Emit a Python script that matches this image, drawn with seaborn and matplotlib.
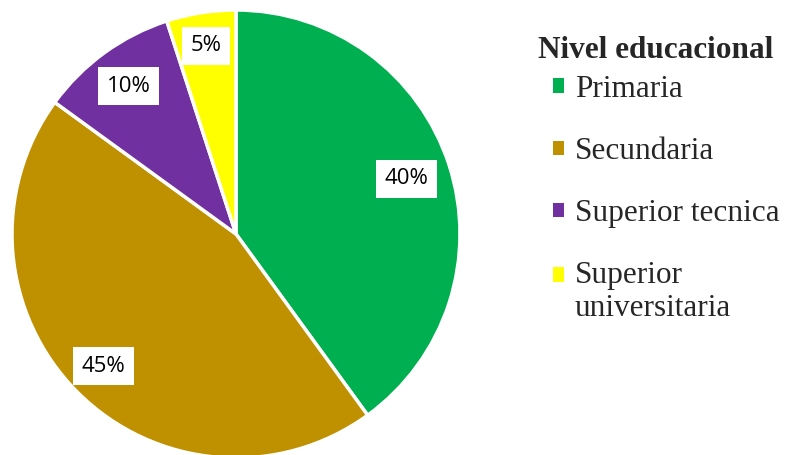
import matplotlib
matplotlib.use("Agg")
import numpy as np
import matplotlib.pyplot as plt
import seaborn as sns
from matplotlib.patches import Patch

niveles = ["Primaria", "Secundaria", "Superior tecnica", "Superior\nuniversitaria"]
porcentajes = [40, 45, 10, 5]
colores = ["#00B050", "#BF9000", "#7030A0", "#FFFF00"]
titulo = "Nivel educacional"

# distance of each % label from the centre (Excel "best fit" placement)
dist_etiqueta = [0.80, 0.835, 0.815, 0.85]

sns.set_style("white")
palette = sns.color_palette(colores)

fig = plt.figure(figsize=(7.87, 4.55), dpi=100)
ax = fig.add_axes([12 / 787, (455 - 234 - 224) / 455, 448 / 787, 448 / 455])

wedges, texts, autotexts = ax.pie(
    porcentajes, colors=palette, startangle=90, counterclock=False,
    autopct="%d%%", pctdistance=0.8,
    wedgeprops=dict(edgecolor="white", linewidth=2.5),
    textprops=dict(fontsize=16, family="Open Sans", color="black"),
)
for w, t, d in zip(wedges, autotexts, dist_etiqueta):
    ang = np.deg2rad((w.theta1 + w.theta2) / 2)
    t.set_position((d * np.cos(ang), d * np.sin(ang)))
    t.set_bbox(dict(facecolor="white", edgecolor="none", boxstyle="square,pad=0.38"))
ax.set_aspect("equal")
ax.set_xlim(-1, 1)
ax.set_ylim(-1, 1)

fig.text(538 / 787, 1 - 50 / 455, titulo, family="Liberation Serif", fontsize=22.5,
         fontweight="bold", ha="left", va="center")

handles = [Patch(facecolor=c, edgecolor="none") for c in palette]
leg = fig.legend(handles, niveles, loc="upper left", bbox_to_anchor=(553 / 787, 1 - 75 / 455),
                 frameon=False, prop=dict(family="Liberation Serif", size=22.5),
                 handletextpad=0.35, labelspacing=1.06, handlelength=0.35,
                 handleheight=0.35, borderpad=0, borderaxespad=0)
leg.get_texts()[3].set_linespacing(1.15)
# Excel keeps the marker on the first line of a wrapped label
ultimo = leg.get_patches()[3]
ultimo.set_y(ultimo.get_y() + 12.5)

fig.savefig("out.png", dpi=100)
